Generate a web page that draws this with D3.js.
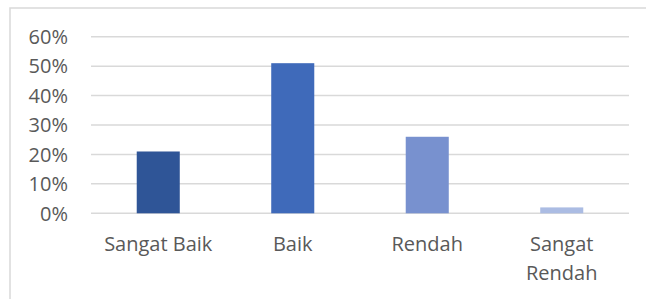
<!DOCTYPE html>
<html>
<head>
<meta charset="utf-8">
<script src="https://cdn.jsdelivr.net/npm/d3@7"></script>
<style>
  body { margin: 0; background: #fff; }
  svg { display: block; }
  text { font-family: "Open Sans", sans-serif; fill: #595959; }
</style>
</head>
<body>
<div id="chart"></div>
<script>
const categories = ["Sangat Baik", "Baik", "Rendah", "Sangat Rendah"];
const values = [0.21, 0.51, 0.26, 0.02];
const barColors = ["#2f5597", "#3f6aba", "#7891cf", "#abbce3"];
const yTicks = [0, 0.1, 0.2, 0.3, 0.4, 0.5, 0.6];

const width = 646, height = 299;
const svg = d3.select("#chart").append("svg")
  .attr("width", width)
  .attr("height", height);

// chart frame (only left and top edges fall inside the picture)
svg.append("rect")
  .attr("x", 10).attr("y", 8)
  .attr("width", 700).attr("height", 400)
  .attr("fill", "none")
  .attr("stroke", "#d9d9d9")
  .attr("stroke-width", 1.5);

const x = d3.scaleBand().domain(categories).range([91, 629]).padding(0);
const y = d3.scaleLinear().domain([0, 0.6]).range([213.3, 36.7]);

// gridlines
svg.append("g")
  .selectAll("line")
  .data(yTicks)
  .join("line")
  .attr("x1", 91).attr("x2", 629)
  .attr("y1", (d) => y(d)).attr("y2", (d) => y(d))
  .attr("stroke", "#d9d9d9")
  .attr("stroke-width", 1.5);

// y labels
svg.append("g")
  .selectAll("text")
  .data(yTicks)
  .join("text")
  .attr("x", 68)
  .attr("y", (d) => y(d))
  .attr("dy", "0.36em")
  .attr("text-anchor", "end")
  .style("font-size", "20px")
  .text((d) => d3.format(".0%")(d));

// bars
const barW = x.bandwidth() * 0.32;
svg.append("g")
  .selectAll("rect")
  .data(values)
  .join("rect")
  .attr("x", (d, i) => x(categories[i]) + (x.bandwidth() - barW) / 2)
  .attr("y", (d) => y(d))
  .attr("width", barW)
  .attr("height", (d) => y(0) - y(d))
  .attr("fill", (d, i) => barColors[i]);

// x labels, wrap the last one like the original
const xl = svg.append("g")
  .selectAll("text")
  .data(categories)
  .join("text")
  .attr("text-anchor", "middle")
  .style("font-size", "20px")
  .attr("y", 251);
xl.each(function (d) {
  const t = d3.select(this);
  const cx = x(d) + x.bandwidth() / 2;
  const lines = d === "Sangat Rendah" ? ["Sangat", "Rendah"] : [d];
  lines.forEach((l, i) => {
    t.append("tspan").attr("x", cx).attr("dy", i === 0 ? 0 : 29).text(l);
  });
});
</script>
</body>
</html>
